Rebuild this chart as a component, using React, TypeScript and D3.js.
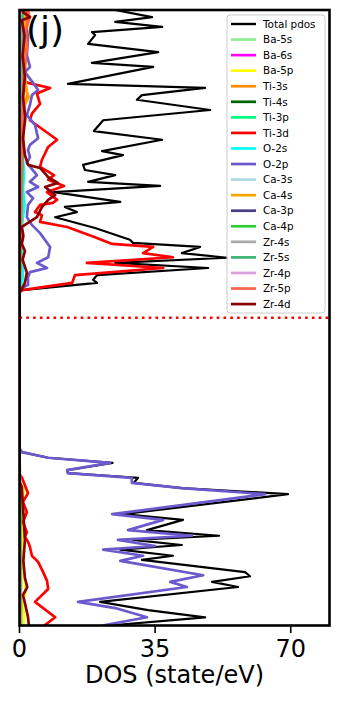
import React from 'react';
import * as d3 from 'd3';

// energy (eV, Fermi level at 0) vs DOS (state/eV)
type Pt = [number, number];

const totalPdos: Pt[] = [
  [6.1, 22], [6.0, 24.7], [5.86, 34.2], [5.77, 24.7], [5.67, 36.8], [5.57, 18.7], [5.51, 19.5], [5.34, 17.7],
  [5.18, 35.8], [4.97, 18.7], [4.89, 34.5], [4.56, 12.5], [4.48, 47.9], [4.34, 31.6], [4.25, 30.3], [4.05, 49.2],
  [3.85, 21.6], [3.64, 19.2], [3.47, 36.8], [3.25, 21.3], [3.17, 26.7], [2.98, 16.4], [2.88, 16.9], [2.78, 24.7],
  [2.65, 17.7], [2.57, 36.3], [2.45, 8.9], [2.26, 26.0], [2.16, 11.7], [2.06, 14.8], [1.96, 9.2], [1.75, 19.5],
  [1.52, 28.5], [1.46, 29.3], [1.38, 46.6], [1.26, 41.9], [1.17, 53.6], [1.07, 24.7], [0.97, 48.7], [0.83, 20.0],
  [0.74, 19.0], [0.68, 20.0], [0.54, 0.65], [0.5, 0], [-2.55, 0], [-2.62, 0.65], [-2.73, 7.4], [-2.83, 24.0],
  [-2.97, 12.3], [-3.03, 12.5], [-3.12, 30.6], [-3.22, 29.5], [-3.32, 41.9], [-3.44, 69.3], [-3.83, 26.7],
  [-3.94, 42.2], [-4.14, 32.9], [-4.25, 51.5], [-4.33, 29.3], [-4.43, 41.9], [-4.52, 26.0], [-4.64, 39.6],
  [-4.72, 31.6], [-4.96, 58.2], [-5.04, 59.5], [-5.15, 49.7], [-5.25, 56.4], [-5.54, 20.8], [-5.70, 33.2],
  [-5.84, 47.9], [-5.99, 24.7], [-6.1, 20],
];
const ba5s: Pt[] = [[6.1, 0.2], [3.0, 0.1], [0.5, 0], [-2.6, 0], [-6.1, 0.2]];
const ba6s: Pt[] = [[6.1, 0.1], [0.5, 0], [-2.6, 0], [-5.9, 0.2], [-6.1, 0.3]];
const ba5p: Pt[] = [
  [6.1, 0.4], [5.0, 0.5], [3.0, 0.3], [0.5, 0], [-3.2, 0], [-3.35, 1.2], [-3.6, 0.7], [-3.9, 1.0], [-4.3, 0.6],
  [-4.8, 0.9], [-5.1, 1.3], [-5.35, 1.6], [-5.6, 0.8], [-5.85, 1.2], [-6.1, 0.8],
];
const ti3s: Pt[] = [
  [6.1, 1.8], [5.8, 2.2], [5.5, 1.4], [5.0, 1.6], [4.6, 1.3], [4.35, 2.0], [4.1, 1.2], [3.6, 1.0], [3.0, 0.8],
  [2.0, 0.6], [1.0, 0.4], [0.5, 0], [-2.6, 0], [-6.1, 0.1],
];
const ti4s: Pt[] = [[6.1, 0.6], [5.3, 0.9], [5.0, 1.3], [4.7, 0.7], [4.0, 0.5], [0.5, 0], [-2.6, 0], [-6.1, 0.1]];
const ti3p: Pt[] = [[6.1, 0.4], [4.6, 1.0], [3.0, 0.3], [0.5, 0], [-6.1, 0]];
const ti3d: Pt[] = [
  [6.1, 1.0], [5.9, 1.6], [5.6, 0.9], [5.2, 1.3], [4.9, 0.8], [4.62, 1.2], [4.58, 2.2], [4.48, 7.9], [4.37, 4.5],
  [4.17, 5.3], [3.98, 3.2], [3.85, 2.7], [3.47, 9.7], [3.33, 7.4], [3.08, 5.8], [2.94, 5.3], [2.78, 8.9],
  [2.69, 7.4], [2.57, 11.5], [2.45, 7.1], [2.30, 9.7], [2.24, 8.6], [2.20, 5.3], [2.06, 4.0], [2.00, 5.8],
  [1.87, 5.3], [1.77, 12.3], [1.57, 19.5], [1.44, 23.9], [1.38, 34.5], [1.26, 31.9], [1.18, 39.6], [1.07, 17.4],
  [0.97, 37.1], [0.83, 14.3], [0.68, 13.6], [0.54, 0.65], [0.5, 0], [-3.05, 0], [-3.12, 0.65], [-3.42, 2.2],
  [-3.59, 0.9], [-3.79, 1.9], [-3.98, 0.9], [-4.18, 1.9], [-4.27, 1.4], [-4.37, 2.2], [-4.47, 2.7], [-4.64, 3.2],
  [-4.76, 4.8], [-4.96, 6.1], [-5.13, 7.1], [-5.29, 7.4], [-5.54, 4.0], [-5.84, 9.2], [-5.99, 6.6], [-6.1, 5],
];
const o2s: Pt[] = [
  [6.1, 0.3], [4.0, 0.4], [3.3, 0.6], [3.0, 1.0], [2.8, 1.2], [2.5, 0.9], [2.2, 1.3], [1.9, 0.8], [1.6, 0.4],
  [1.2, 0.6], [0.9, 0.9], [0.7, 0.7], [0.5, 0], [-2.6, 0], [-4.0, 0.2], [-6.1, 0.2],
];
const o2p: Pt[] = [
  [6.1, 1.2], [5.9, 1.4], [5.45, 2.2], [5.12, 1.9], [4.89, 2.7], [4.79, 1.4], [4.58, 3.5], [4.44, 4.8], [4.34, 3.2],
  [4.15, 2.7], [3.95, 1.9], [3.76, 4.0], [3.50, 4.8], [3.37, 2.7], [3.27, 2.2], [3.13, 2.7], [3.02, 1.9],
  [2.78, 4.5], [2.65, 2.7], [2.55, 4.8], [2.45, 1.9], [2.33, 3.5], [2.20, 2.2], [1.96, 1.9], [1.81, 3.2],
  [1.65, 5.3], [1.38, 7.9], [1.18, 7.4], [1.07, 4.5], [0.97, 7.1], [0.89, 2.7], [0.79, 2.2], [0.64, 2.2],
  [0.58, 0.65], [0.5, 0], [-2.55, 0], [-2.62, 0.65], [-2.73, 7.4], [-2.83, 23.4], [-2.97, 12.3], [-3.03, 12.5],
  [-3.12, 29.0], [-3.22, 29.0], [-3.32, 41.9], [-3.44, 63.4], [-3.83, 23.9], [-3.94, 37.1], [-4.14, 28.0],
  [-4.25, 44.5], [-4.33, 25.4], [-4.45, 35.0], [-4.52, 21.6], [-4.64, 31.9], [-4.74, 26.0], [-5.02, 47.4],
  [-5.15, 38.9], [-5.25, 43.2], [-5.54, 15.1], [-5.66, 24.7], [-5.84, 32.9], [-5.99, 22.1], [-6.1, 18],
];
const ca3s: Pt[] = [[6.1, 0.1], [0.5, 0], [-2.6, 0], [-6.1, 0.1]];
const ca4s: Pt[] = [
  [6.1, 1.2], [5.6, 1.6], [5.0, 1.0], [4.4, 1.9], [4.3, 2.4], [4.1, 1.0], [3.0, 0.6], [1.5, 0.4], [0.5, 0],
  [-2.6, 0], [-6.1, 0.1],
];
const ca3p: Pt[] = [[6.1, 0.1], [0.5, 0], [-2.6, 0], [-6.1, 0.2]];
const ca4p: Pt[] = [
  [6.1, 0.8], [5.0, 0.6], [4.6, 1.2], [4.4, 0.7], [3.0, 0.4], [0.5, 0], [-2.6, 0], [-4.0, 0.3], [-5.5, 0.4],
  [-6.1, 0.4],
];
const zr4s: Pt[] = [[6.1, 0.1], [0.5, 0], [-2.6, 0], [-6.1, 0.1]];
const zr5s: Pt[] = [[6.1, 0.5], [3.2, 0.8], [2.0, 0.4], [0.5, 0], [-2.6, 0], [-6.1, 0.1]];
const zr4p: Pt[] = [[6.1, 0.2], [0.5, 0], [-2.6, 0], [-6.1, 0.2]];
const zr5p: Pt[] = [
  [6.1, 2.0], [5.85, 2.6], [5.6, 1.6], [5.3, 2.0], [4.9, 1.2], [4.5, 1.0], [3.5, 0.6], [2.5, 0.4], [0.5, 0],
  [-2.6, 0], [-6.1, 0.1],
];
const zr4d: Pt[] = [
  [6.1, 1.0], [5.96, 0.9], [5.86, 2.7], [5.80, 0.6], [5.5, 1.3], [5.1, 0.8], [4.7, 1.4], [4.3, 0.9], [3.9, 1.5],
  [3.5, 0.9], [3.17, 1.4], [2.98, 2.2], [2.92, 5.3], [2.74, 7.4], [2.63, 9.9], [2.55, 6.6], [2.39, 9.2],
  [2.30, 7.4], [2.16, 5.8], [1.96, 4.5], [1.85, 2.2], [1.77, 0.6], [1.6, 1.0], [1.44, 0.6], [1.30, 1.4],
  [1.13, 0.8], [0.88, 1.9], [0.68, 1.4], [0.54, 0.5], [0.5, 0], [-3.2, 0], [-3.3, 0.6], [-3.69, 0.9],
  [-4.33, 1.4], [-4.74, 1.0], [-5.07, 1.4], [-5.25, 2.0], [-5.41, 0.9], [-5.56, 1.4], [-5.84, 2.2],
  [-5.99, 2.4], [-6.1, 2],
];

const labels = [
  'Total pdos', 'Ba-5s', 'Ba-6s', 'Ba-5p', 'Ti-3s', 'Ti-4s', 'Ti-3p', 'Ti-3d', 'O-2s', 'O-2p',
  'Ca-3s', 'Ca-4s', 'Ca-3p', 'Ca-4p', 'Zr-4s', 'Zr-5s', 'Zr-4p', 'Zr-5p', 'Zr-4d',
];
const seriesData = [
  totalPdos, ba5s, ba6s, ba5p, ti3s, ti4s, ti3p, ti3d, o2s, o2p,
  ca3s, ca4s, ca3p, ca4p, zr4s, zr5s, zr4p, zr5p, zr4d,
];
const colors = [
  'black', 'lightgreen', 'magenta', 'yellow', 'darkorange', 'darkgreen', 'springgreen', 'red', 'cyan', 'slateblue',
  'lightblue', 'orange', 'darkslateblue', 'limegreen', 'darkgray', 'mediumseagreen', 'plum', 'tomato', 'darkred',
];
const xTicks = [0, 35, 70];

const W = 338, H = 707;
const left = 19.5, right = 329.5, top = 10, bottom = 625.5;
const font = 'DejaVu Sans, sans-serif';

export default function App() {
  const x = d3.scaleLinear().domain([0, 80]).range([left, right]);
  const y = d3.scaleLinear().domain([-6, 6]).range([bottom, top]);
  const line = d3.line<Pt>().x(d => x(d[1])).y(d => y(d[0]));

  const legX = 227, legY = 15, legW = 98, legH = 298;
  const rowY = (i: number) => 24 + i * 15.56;

  return (
    <svg width={W} height={H} style={{ position: 'absolute', left: 0, top: 0 }} fontFamily={font}>
      <rect x={0} y={0} width={W} height={H} fill="white" />
      <defs>
        <clipPath id="plot">
          <rect x={left} y={top} width={right - left} height={bottom - top} />
        </clipPath>
      </defs>
      <g clipPath="url(#plot)">
        {seriesData.map((d, i) => (
          <path key={labels[i]} d={line(d) || ''} fill="none" stroke={colors[i]}
            strokeWidth={i === 0 ? 2.2 : 2.7} strokeLinejoin="round" />
        ))}
        {/* Fermi level */}
        <line x1={left} x2={right} y1={y(0)} y2={y(0)} stroke="red" strokeWidth={2.6} strokeDasharray="2.6,4.2" />
      </g>
      {/* frame */}
      <rect x={left} y={top} width={right - left} height={bottom - top} fill="none" stroke="black" strokeWidth={2.6} />
      {xTicks.map(t => (
        <g key={t}>
          <line x1={x(t)} x2={x(t)} y1={bottom} y2={633} stroke="black" strokeWidth={1.6} />
          <text x={x(t)} y={657} fontSize={24} textAnchor="middle">{t}</text>
        </g>
      ))}
      <text x={(left + right) / 2} y={683} fontSize={24} textAnchor="middle">DOS (state/eV)</text>
      <text x={26} y={42} fontSize={36}>(j)</text>
      {/* legend */}
      <rect x={legX} y={legY} width={legW} height={legH} rx={3} fill="white" fillOpacity={0.8}
        stroke="#cccccc" strokeWidth={1} />
      {labels.map((l, i) => (
        <g key={l}>
          <line x1={231} x2={256} y1={rowY(i)} y2={rowY(i)} stroke={colors[i]} strokeWidth={i === 0 ? 2.4 : 2.7} />
          <text x={263} y={rowY(i)} dy="0.36em" fontSize={10.4}>{l}</text>
        </g>
      ))}
    </svg>
  );
}
